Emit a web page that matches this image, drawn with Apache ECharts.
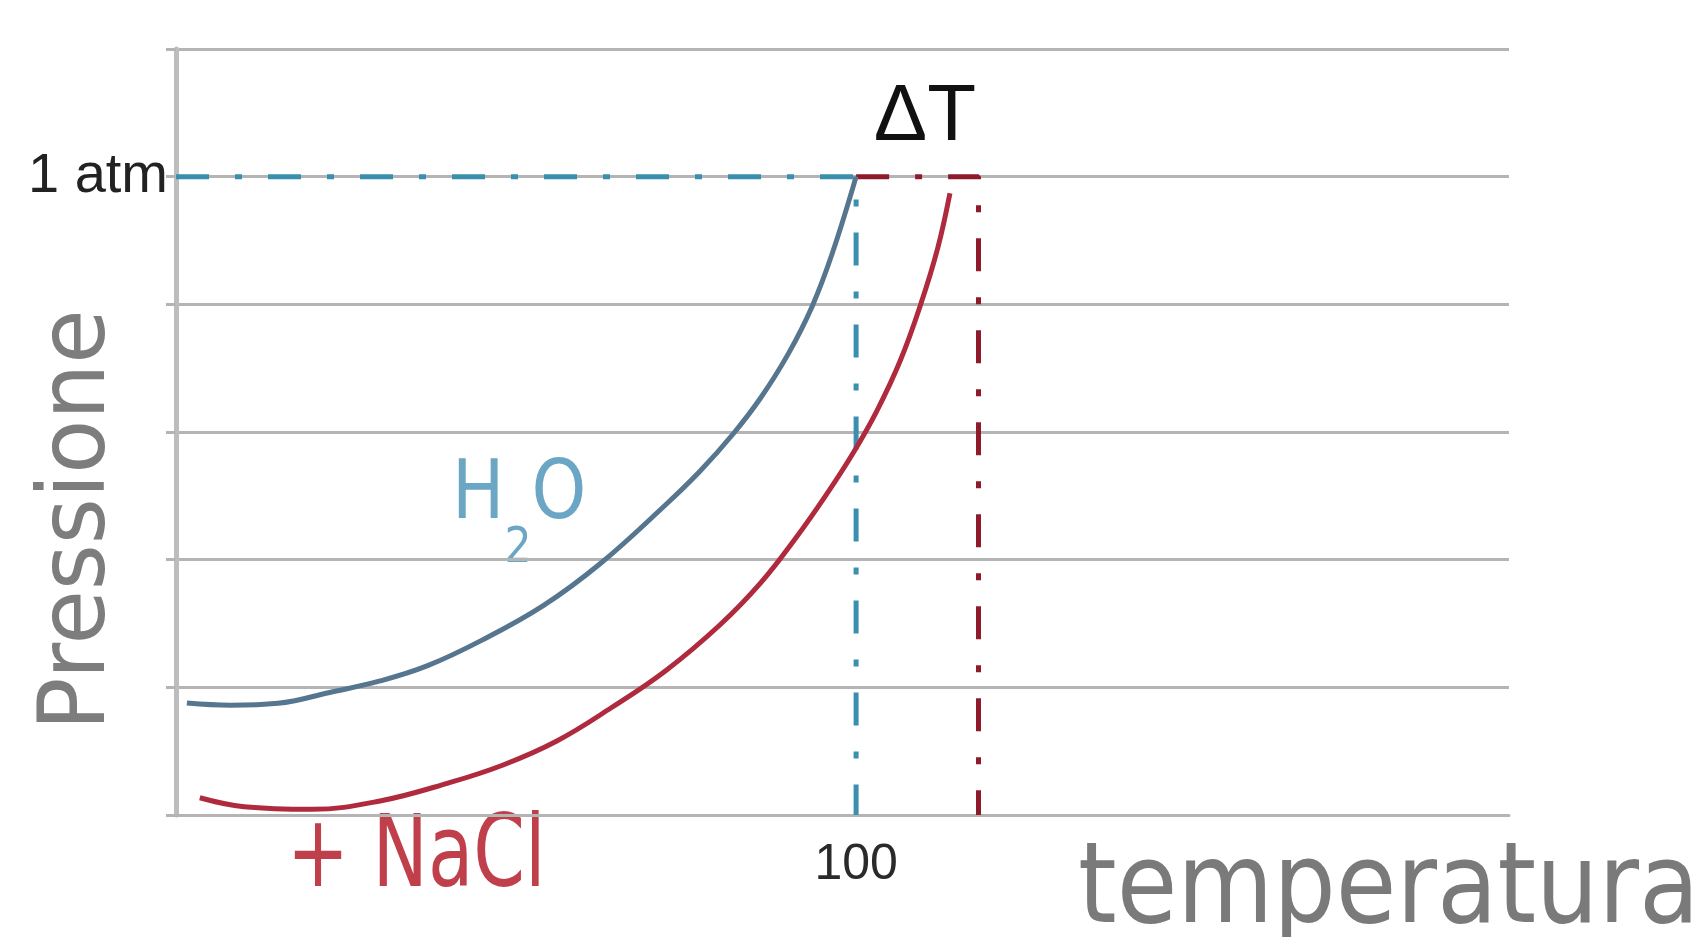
<!DOCTYPE html>
<html><head><meta charset="utf-8">
<script src="https://cdn.jsdelivr.net/npm/echarts@6/dist/echarts.min.js"></script>
<style>html,body{margin:0;padding:0;background:#fff}#chart{width:1708px;height:937px}</style>
</head><body><div id="chart"></div>
<script>
// Vapour-pressure curve of pure water (temperature, pressure in grid units; 5 = 1 atm)
const h2oTemp = [1.6, 8, 15, 22.6, 30, 37, 45, 54, 62.4, 72, 77, 82, 86, 90, 93.5, 96.5, 100];
const h2oPressure = [0.877, 0.86, 0.875, 0.96, 1.05, 1.17, 1.37, 1.64, 1.97, 2.43, 2.69, 2.99, 3.27, 3.61, 3.98, 4.40, 5.0];
// Vapour-pressure curve of water + NaCl
const naclTemp = [3.5, 10, 20, 30, 40, 48, 56, 64, 72, 80, 86, 91, 95.5, 99.5, 103, 106.5, 109.5, 112, 113.8];
const naclPressure = [0.135, 0.065, 0.045, 0.11, 0.25, 0.39, 0.58, 0.84, 1.13, 1.49, 1.82, 2.16, 2.50, 2.83, 3.16, 3.56, 4.00, 4.44, 4.87];
const atmLevel = 5;
const boilWater = 100;
const boilSolution = 118;
const xTickLabels = {100: '100'};
const yTickLabels = {5: '1 atm'};

const zip = (a, b) => a.map((v, i) => [v, b[i]]);
const dashPattern = [33, 26, 7, 26];

const chart = echarts.init(document.getElementById('chart'));
chart.setOption({
  backgroundColor: '#ffffff',
  animation: false,
  grid: {left: 176, right: 199, top: 49, bottom: 122},
  xAxis: {
    type: 'value', min: 0, max: 196, interval: 100,
    splitLine: {show: false},
    axisLine: {show: true, lineStyle: {color: '#b4b4b4', width: 3}},
    axisTick: {show: false},
    axisLabel: {
      showMinLabel: true, showMaxLabel: false,
      formatter: v => xTickLabels[v] || '',
      fontSize: 50, fontFamily: 'Liberation Sans', color: '#2a2a2a', margin: 25
    }
  },
  yAxis: {
    type: 'value', min: 0, max: 6, interval: 1,
    splitLine: {show: true, lineStyle: {color: '#b4b4b4', width: 3}},
    axisLine: {show: true, lineStyle: {color: '#bdbdbd', width: 5}},
    axisTick: {show: true, length: 10, lineStyle: {color: '#b4b4b4', width: 3}},
    axisLabel: {
      formatter: v => yTickLabels[v] || '',
      fontSize: 56, fontFamily: 'Liberation Sans', color: '#222', margin: 8
    }
  },
  series: [
    {
      name: 'H2O 1 atm', type: 'line', symbol: 'none', z: 3,
      data: [[0, atmLevel], [boilWater, atmLevel], [boilWater, 0]],
      lineStyle: {color: '#3a8fae', width: 5, type: dashPattern}
    },
    {
      name: 'NaCl 1 atm', type: 'line', symbol: 'none', z: 3,
      data: [[boilWater, atmLevel], [boilSolution, atmLevel], [boilSolution, 0]],
      lineStyle: {color: '#8e1b2c', width: 5, type: dashPattern}
    },
    {
      name: 'H2O', type: 'line', symbol: 'none', smooth: 0.4, z: 4,
      data: zip(h2oTemp, h2oPressure),
      lineStyle: {color: '#56758e', width: 5}
    },
    {
      name: '+ NaCl', type: 'line', symbol: 'none', smooth: 0.4, z: 4,
      data: zip(naclTemp, naclPressure),
      lineStyle: {color: '#b02a3e', width: 5}
    }
  ],
  graphic: [
    {type: 'text', x: 925, y: 118, style: {text: 'ΔT', fontSize: 80, fontFamily: 'Liberation Sans', fill: '#111', align: 'center', verticalAlign: 'middle'}},
    {type: 'text', x: 80, y: 520, rotation: Math.PI / 2, scaleX: 0.96,
      style: {text: 'Pressione', fontSize: 92, fontFamily: 'DejaVu Sans', fill: '#7d7d7d', align: 'center', verticalAlign: 'middle'}},
    {type: 'text', x: 1078, y: 893, scaleX: 0.88,
      style: {text: 'temperatura', fontSize: 112, fontFamily: 'DejaVu Sans', fill: '#7a7a7a', align: 'left', verticalAlign: 'middle'}},
    {type: 'text', x: 287, y: 860, scaleX: 0.74,
      style: {text: '+ NaCl', fontSize: 100, fontFamily: 'DejaVu Sans', fill: '#bf3f4b', align: 'left', verticalAlign: 'middle'}},
    {type: 'text', x: 452, y: 497, scaleX: 0.85,
      style: {
        text: '{n|H}{s|2}{n|O}', align: 'left', verticalAlign: 'middle', fill: '#6ba7c4',
        rich: {
          n: {fontSize: 82, fontFamily: 'DejaVu Sans', fill: '#6ba7c4', color: '#6ba7c4', lineHeight: 82},
          s: {fontSize: 50, fontFamily: 'DejaVu Sans', fill: '#6ba7c4', color: '#6ba7c4', lineHeight: 46, padding: [104, 0, 0, 0]}
        }
      }}
  ]
});
</script>
</body></html>
